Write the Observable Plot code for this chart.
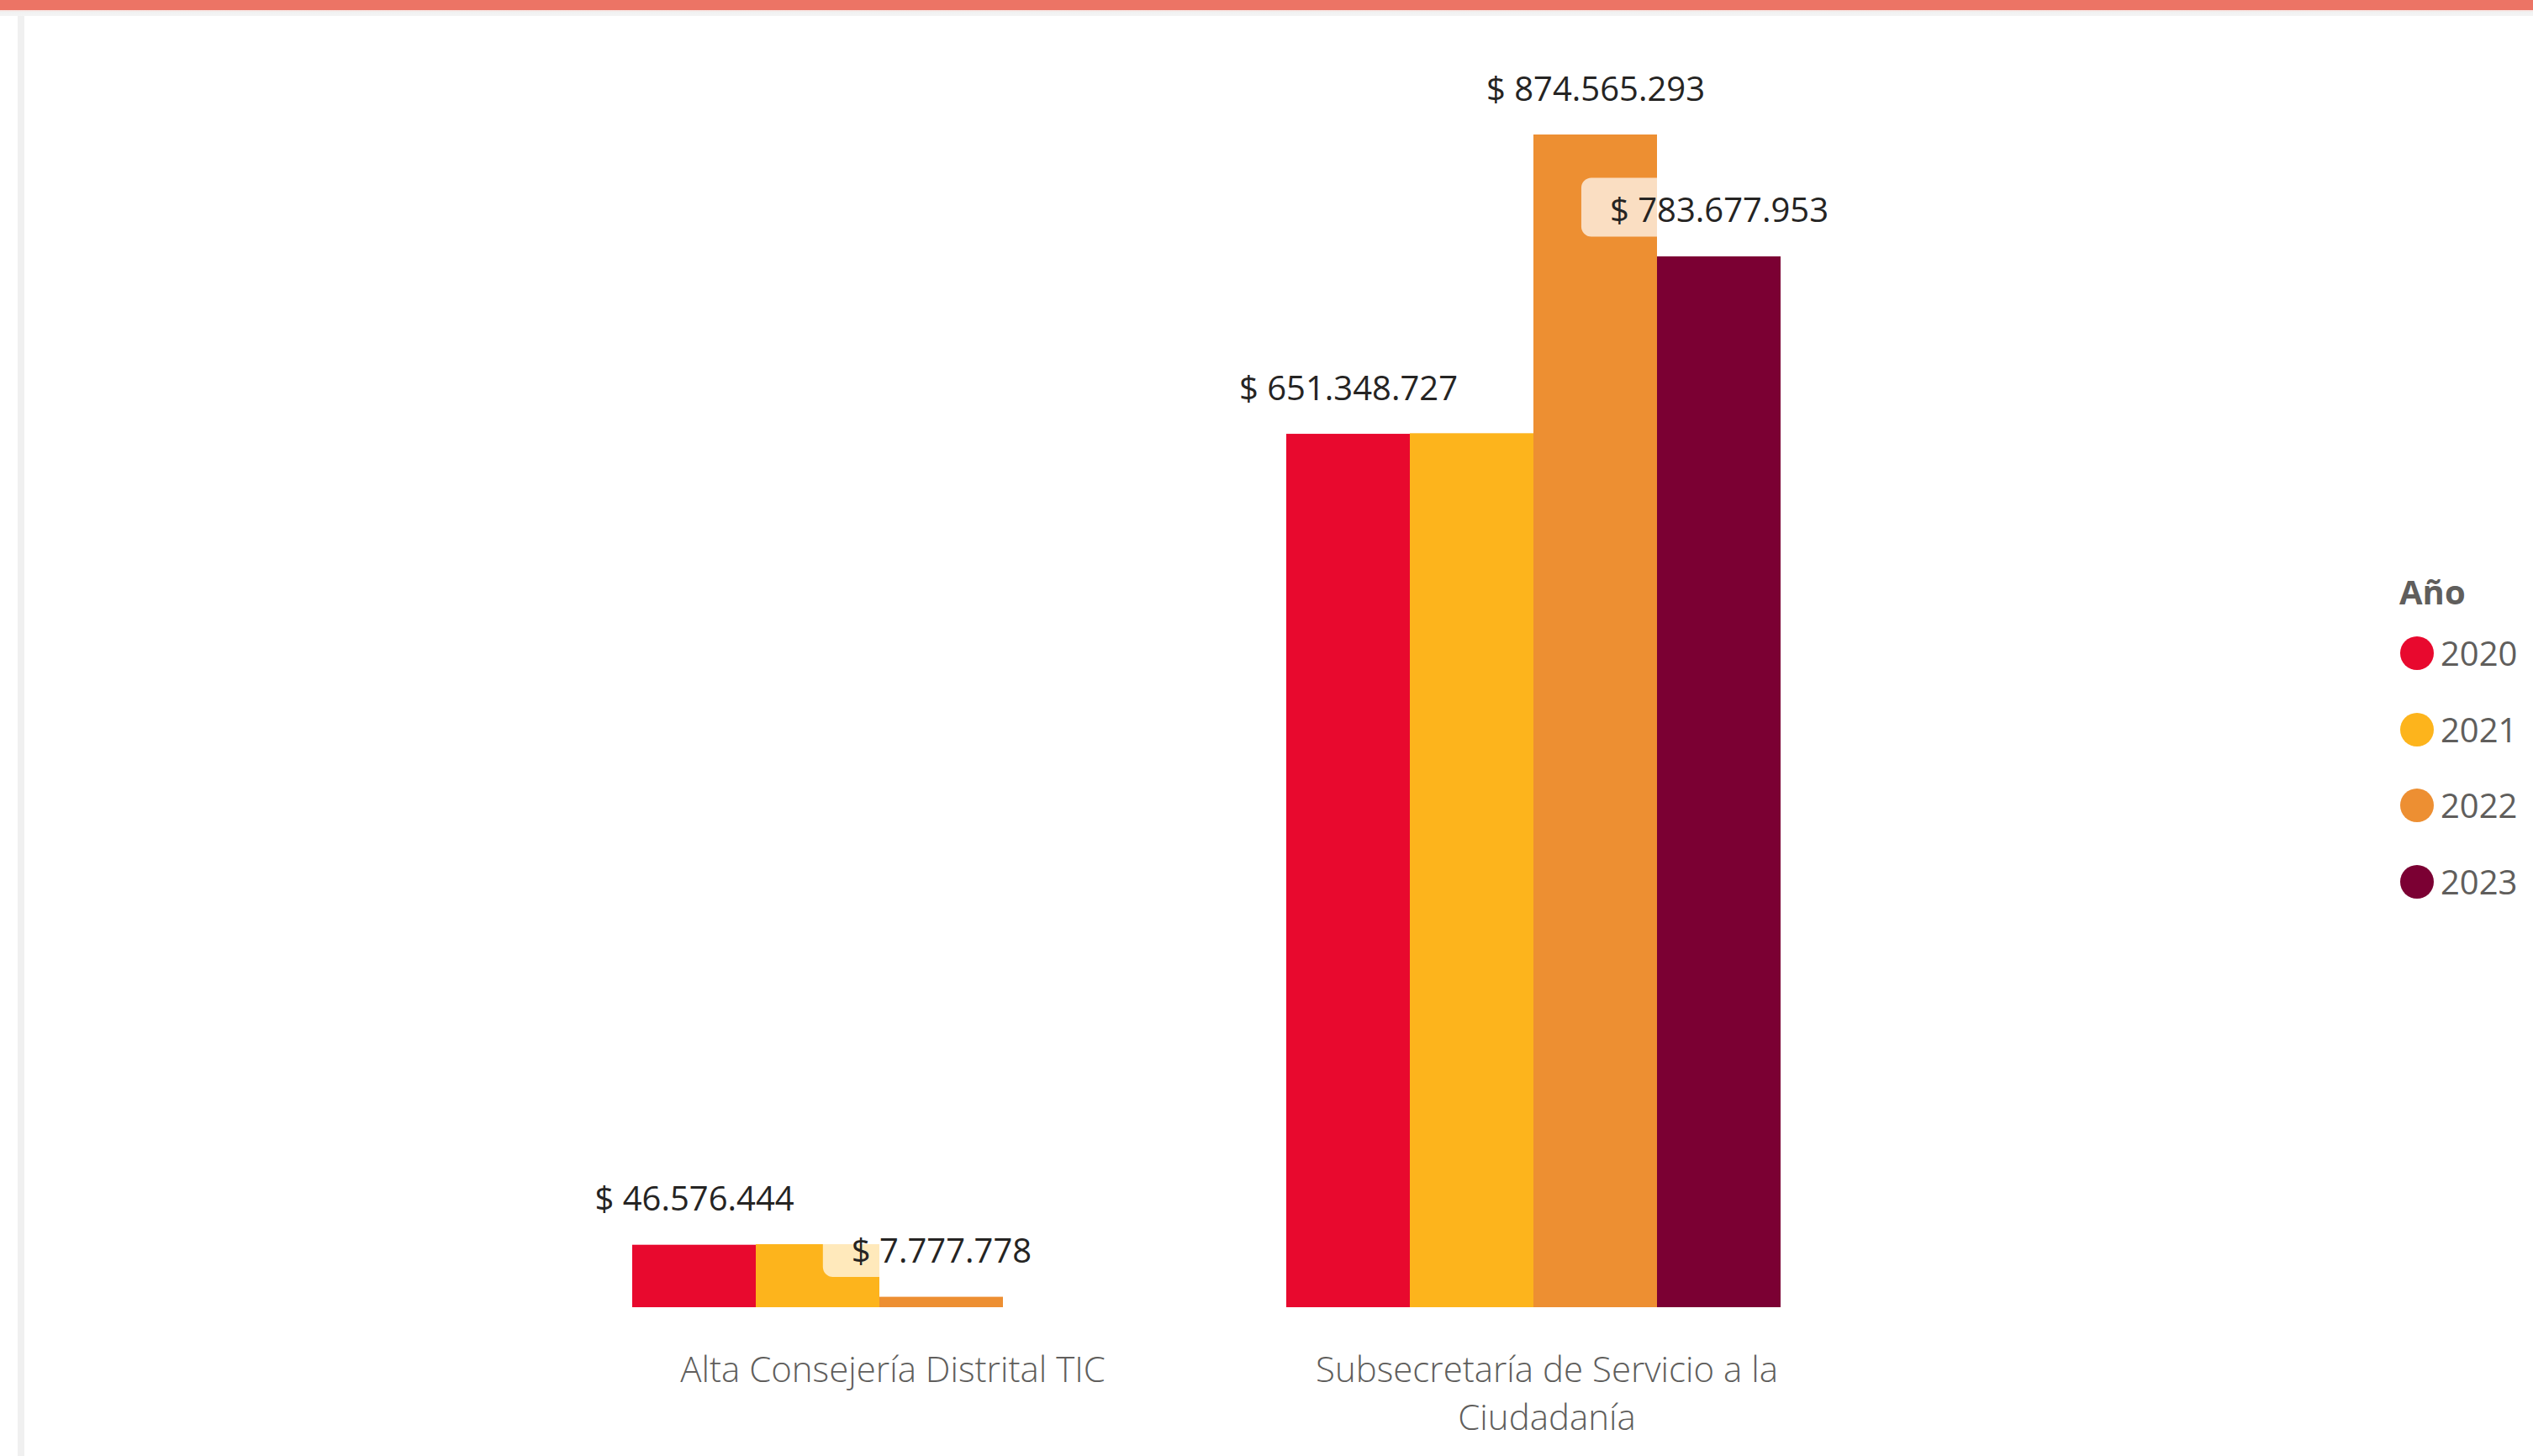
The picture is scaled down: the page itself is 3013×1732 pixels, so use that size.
<!DOCTYPE html>
<html><head><meta charset="utf-8">
<script src="https://cdn.jsdelivr.net/npm/d3@7"></script>
<script src="https://cdn.jsdelivr.net/npm/@observablehq/plot@0.6"></script>
<style>
html,body{margin:0;padding:0;background:#fff;width:3013px;height:1732px;overflow:hidden;font-family:"Open Sans",sans-serif;}
#chart{position:absolute;left:0;top:0;}
#topbar{position:absolute;left:0;top:0;width:3013px;height:12px;background:#EC7465;}
#shade{position:absolute;left:0;top:12px;width:3013px;height:7px;background:linear-gradient(#F9E0DC,#F1F1F1 35%,#F4F4F4);}
#leftstrip{position:absolute;left:21px;top:19px;width:8px;height:1713px;background:#F0F0F0;}
#legend{position:absolute;left:2855px;top:0;font-family:"Open Sans",sans-serif;color:#605E5C;}
#legend .title{position:absolute;left:-1px;top:684px;font-size:40px;line-height:40px;font-weight:700;white-space:nowrap;}
#legend .item{position:absolute;left:0;height:40px;display:flex;align-items:center;white-space:nowrap;}
#legend .dot{width:40px;height:40px;border-radius:50%;margin-right:8px;flex:none;}
#legend .lab{font-size:40px;line-height:40px;}
g[aria-label="fx-axis tick label"] text{font-weight:300;}
</style></head><body>
<div id="chart"></div>
<div id="topbar"></div><div id="shade"></div><div id="leftstrip"></div>
<div id="legend"></div>
<script>
const entities = ["Alta Consejería Distrital TIC", "Subsecretaría de Servicio a la Ciudadanía"];
const years = ["2020", "2021", "2022", "2023"];
const colors = ["#E8092E", "#FDB41C", "#ED8F32", "#7B0033"];
const altaValues = [46576444, 47000000, 7777778, null];
const subsValues = [651348727, 651800000, 874565293, 783677953];
const labeledYears = ["2020", "2022", "2023"];
const legendTitle = "Año";

const data = [];
[altaValues, subsValues].forEach((vals, i) => {
  vals.forEach((v, j) => { if (v != null) data.push({entity: entities[i], year: years[j], value: v}); });
});

const fmt = v => "$ " + d3.format(",")(v).replace(/,/g, ".");

const plot = Plot.plot({
  width: 2800, height: 1732,
  marginLeft: 749, marginRight: 680, marginTop: 160, marginBottom: 177,
  style: {background: "transparent", fontFamily: "'Open Sans', sans-serif", overflow: "visible"},
  fx: {domain: entities, paddingInner: 0.24, paddingOuter: 0, label: null},
  x: {domain: years, padding: 0, axis: null},
  y: {domain: [0, d3.max(data, d => d.value)], axis: null},
  color: {domain: years, range: colors},
  marks: [
    Plot.barY(data, {fx: "entity", x: "year", y: "value", fill: "year"}),
    Plot.text(data.filter(d => labeledYears.includes(d.year)), {
      fx: "entity", x: "year", y: "value", text: d => fmt(d.value),
      dy: -41, lineAnchor: "bottom", fontSize: 40, fill: "#252423"
    }),
    Plot.axisFx({anchor: "bottom", tickSize: 0, tickPadding: 48, fontSize: 42, lineWidth: 16, lineHeight: 1.36, dx: 16, color: "#605E5C", label: null})
  ]
});
document.getElementById("chart").append(plot);

// label backgrounds (semi-transparent white, rounded) behind value labels
plot.querySelectorAll('g[aria-label="text"] text').forEach(t => {
  const bb = t.getBBox();
  const yAttr = parseFloat(t.getAttribute("y")) || 0;
  const r = document.createElementNS("http://www.w3.org/2000/svg", "rect");
  const tr = t.getAttribute("transform");
  if (tr) r.setAttribute("transform", tr);
  r.setAttribute("x", bb.x - 34);
  r.setAttribute("width", bb.width + 68);
  r.setAttribute("y", yAttr - 53);
  r.setAttribute("height", 70);
  r.setAttribute("rx", 12);
  r.setAttribute("fill", "#ffffff");
  r.setAttribute("fill-opacity", 0.7);
  t.parentNode.insertBefore(r, t);
});

// legend
const legend = document.getElementById("legend");
const title = document.createElement("div");
title.className = "title"; title.textContent = legendTitle;
legend.appendChild(title);
years.forEach((y, i) => {
  const item = document.createElement("div");
  item.className = "item";
  item.style.top = (757 + i * 90.7) + "px";
  const dot = document.createElement("span");
  dot.className = "dot"; dot.style.background = colors[i];
  const lab = document.createElement("span");
  lab.className = "lab"; lab.textContent = y;
  item.append(dot, lab);
  legend.appendChild(item);
});
</script>
</body></html>
